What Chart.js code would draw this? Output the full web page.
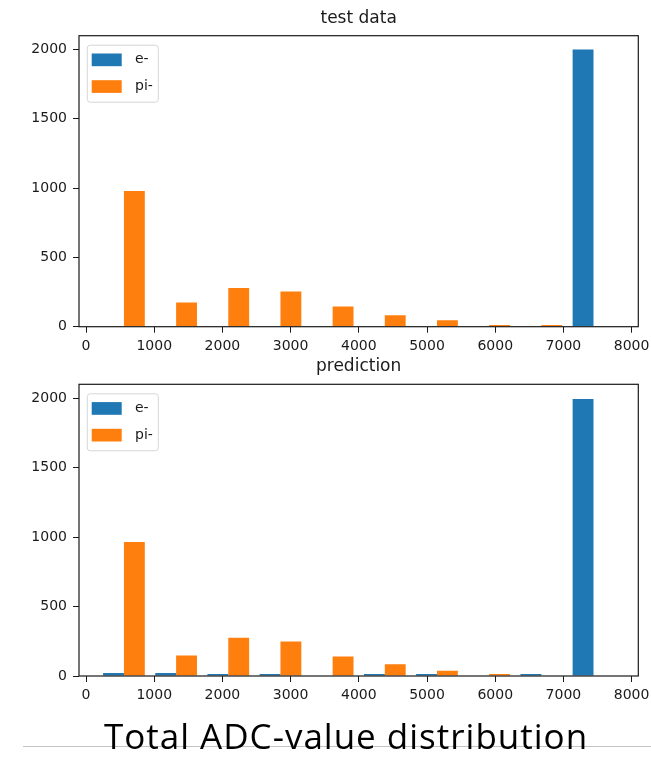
<!DOCTYPE html>
<html>
<head>
<meta charset="utf-8">
<script src="https://cdn.jsdelivr.net/npm/chart.js@4.4.1/dist/chart.umd.min.js"></script>
<style>
  body { margin: 0; background: #fff; }
  #page { position: relative; width: 651px; height: 757px; overflow: hidden; background: #fff; }
  canvas { position: absolute; left: 0; }
  #top { top: 0; }
  #bottom { top: 340px; }
  #rule { position: absolute; left: 23px; right: 0; top: 746px; height: 1px; background: #c4c4c4; }
  #caption { position: absolute; left: 0; width: 692px; top: 715px; text-align: center;
             font: 35px "Open Sans", sans-serif; letter-spacing: 1px; line-height: 1.2;
             color: #000; white-space: nowrap; }
</style>
</head>
<body>
<div id="page">
  <canvas id="top" width="651" height="360"></canvas>
  <canvas id="bottom" width="651" height="370"></canvas>
  <div id="rule"></div>
  <div id="caption">Total ADC-value distribution</div>
</div>
<script>
// histogram bins (centres of the 10 ADC bins)
const binCenters = [556, 1321, 2086, 2851, 3616, 4381, 5146, 5911, 6676, 7441];
const seriesNames = ['e-', 'pi-'];
const seriesColors = ['#1f77b4', '#ff7f0e'];

// counts per bin
const testElectron = [0, 0, 0, 0, 0, 0, 0, 0, 0, 2000];
const testPion = [980, 174, 280, 254, 145, 83, 46, 12, 12, 0];
const predElectron = [22, 22, 14, 14, 0, 14, 14, 0, 14, 1995];
const predPion = [964, 148, 275, 248, 140, 85, 38, 14, 0, 0];

const xTicks = [0, 1000, 2000, 3000, 4000, 5000, 6000, 7000, 8000];
const yTicks = [0, 500, 1000, 1500, 2000];

Chart.defaults.font.family = '"DejaVu Sans", sans-serif';
Chart.defaults.font.size = 14;
Chart.defaults.color = '#1a1a1a';

// full box around the plot area, like matplotlib spines
const frame = {
  id: 'frame',
  afterDraw(chart) {
    const { ctx, chartArea: a } = chart;
    ctx.save();
    ctx.strokeStyle = '#1a1a1a';
    ctx.lineWidth = 1.2;
    ctx.strokeRect(a.left, a.top, a.right - a.left, a.bottom - a.top);
    ctx.restore();
  }
};

// legend drawn inside the axes, upper left
const boxLegend = {
  id: 'boxLegend',
  afterDatasetsDraw(chart) {
    const { ctx, chartArea: a } = chart;
    const x = a.left + 8.3;
    const y = a.top + 9.5;
    ctx.save();
    ctx.beginPath();
    ctx.roundRect(x, y, 71, 57, 3);
    ctx.fillStyle = 'rgba(255,255,255,0.8)';
    ctx.fill();
    ctx.strokeStyle = '#d6d6d6';
    ctx.lineWidth = 1;
    ctx.stroke();
    ctx.font = '14px "DejaVu Sans"';
    ctx.textBaseline = 'middle';
    chart.data.datasets.forEach((ds, i) => {
      const rowY = y + 8.3 + i * 26.7;
      ctx.fillStyle = ds.backgroundColor;
      ctx.fillRect(x + 4.4, rowY, 30, 12.7);
      ctx.fillStyle = '#1a1a1a';
      ctx.fillText(ds.label, x + 47.7, rowY + 6.3);
    });
    ctx.restore();
  }
};

function makeHistogram(canvasId, titleText, electron, pion, titlePad, axisHeight) {
  const ctx = document.getElementById(canvasId).getContext('2d');
  const series = [electron, pion];

  return new Chart(ctx, {
    type: 'bar',
    data: {
      datasets: series.map((counts, i) => ({
        label: seriesNames[i],
        data: counts.map((c, k) => ({ x: binCenters[k], y: c })),
        backgroundColor: seriesColors[i],
        borderWidth: 0,
        categoryPercentage: 0.8,
        barPercentage: 1.0,
      })),
    },
    options: {
      responsive: false,
      animation: false,
      devicePixelRatio: 1,
      layout: { padding: { left: 0, right: 12.7, top: 0, bottom: 0 } },
      plugins: {
        legend: { display: false },
        tooltip: { enabled: false },
        title: {
          display: true,
          fullSize: false,
          text: titleText,
          color: '#1a1a1a',
          font: { size: 17, weight: 'normal' },
          padding: titlePad,
        },
      },
      scales: {
        x: {
          type: 'linear',
          min: -103,
          max: 8098,
          offset: false,
          grid: { offset: false, drawOnChartArea: false, drawTicks: true, tickLength: 6, color: '#1a1a1a' },
          border: { display: false },
          ticks: { padding: 5, maxRotation: 0, callback: (v) => String(v) },
          afterBuildTicks: (scale) => { scale.ticks = xTicks.map((v) => ({ value: v })); },
          afterFit: (scale) => {
            scale.height = axisHeight;
            scale.paddingLeft = 0;
            scale.paddingRight = 0;
          },
        },
        y: {
          min: 0,
          max: 2100,
          grid: { drawOnChartArea: false, drawTicks: true, tickLength: 6, color: '#1a1a1a' },
          border: { display: false },
          ticks: { padding: 6, callback: (v) => String(v) },
          afterBuildTicks: (scale) => { scale.ticks = yTicks.map((v) => ({ value: v })); },
          afterFit: (scale) => { scale.width = 79; },
        },
      },
    },
    plugins: [frame, boxLegend],
  });
}

makeHistogram('top', 'test data', testElectron, testPion, { top: 8.8, bottom: 6.5 }, 33.3);
makeHistogram('bottom', 'prediction', predElectron, predPion, { top: 16.8, bottom: 7.1 }, 34);
</script>
</body>
</html>
